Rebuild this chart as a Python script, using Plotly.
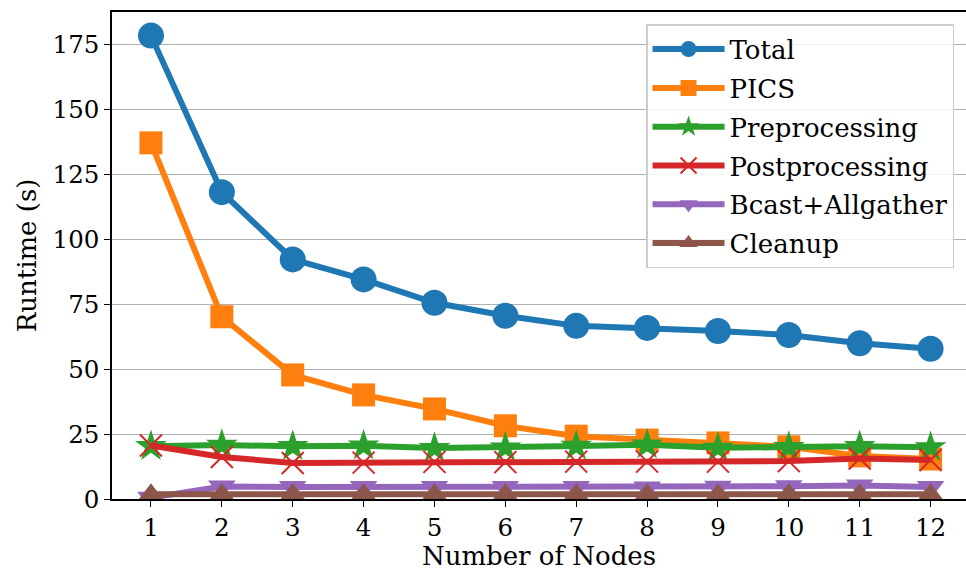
import plotly.graph_objects as go

nodes = [1, 2, 3, 4, 5, 6, 7, 8, 9, 10, 11, 12]
total = [178.5, 118.2, 92.3, 84.6, 75.6, 70.6, 66.7, 65.9, 64.7, 63.2, 60.0, 57.9]
pics = [137.2, 70.2, 47.8, 40.1, 34.7, 28.2, 24.2, 22.7, 21.6, 20.1, 16.6, 15.4]
preprocessing = [20.3, 20.8, 20.3, 20.5, 19.6, 19.8, 20.4, 20.9, 19.7, 20.0, 20.3, 19.9]
postprocessing = [20.6, 16.2, 13.9, 14.0, 14.3, 14.2, 14.4, 14.4, 14.4, 14.6, 15.6, 15.0]
bcast = [0.5, 4.8, 4.6, 4.6, 4.6, 4.6, 4.6, 4.4, 4.7, 4.9, 5.2, 4.6]
cleanup = [1.8, 1.8, 1.8, 1.8, 1.8, 1.8, 1.8, 1.8, 1.8, 1.8, 1.8, 1.8]

series = [
    ("Total", total, "#1f77b4", "circle", 26, None),
    ("PICS", pics, "#ff7f0e", "square", 23, None),
    ("Preprocessing", preprocessing, "#2ca02c", "star", 24, None),
    ("Postprocessing", postprocessing, "#d62728", "x-thin", 22, 2),
    ("Bcast+Allgather", bcast, "#9467bd", "triangle-down", 24, None),
    ("Cleanup", cleanup, "#8c564b", "triangle-up", 22, None),
]

fig = go.Figure()
for i, (name, vals, color, sym, size, lw) in enumerate(series):
    marker = dict(symbol=sym, size=size, color=color)
    if lw:
        marker["line"] = dict(color=color, width=lw)
    else:
        marker["line"] = dict(width=0)
    fig.add_trace(go.Scatter(
        x=nodes, y=vals, name=name, mode="lines+markers",
        line=dict(color=color, width=6), marker=marker,
        legendgroup=f"g{i}",
    ))

font = "DejaVu Serif"
fig.update_layout(
    width=966, height=571,
    margin=dict(l=112, r=0, t=12, b=72),
    paper_bgcolor="white", plot_bgcolor="white",
    font=dict(family=font, size=24.5, color="black"),
    showlegend=True,
    legend=dict(
        x=0.986, y=0.975, xanchor="right", yanchor="top",
        bgcolor="rgba(255,255,255,0.85)", bordercolor="#cccccc", borderwidth=1.5,
        font=dict(family=font, size=26), tracegroupgap=2, itemwidth=72,
    ),
    xaxis=dict(
        range=[0.45, 12.5], tickmode="array", tickvals=nodes,
        ticktext=[str(n) for n in nodes],
        ticks="outside", ticklen=6, tickwidth=1.2, tickcolor="black",
        showline=True, linecolor="black", linewidth=1.5, mirror=True,
        showgrid=False, zeroline=False,
        title=dict(text="Number of Nodes", standoff=5, font=dict(size=26)),
    ),
    yaxis=dict(
        range=[0, 187.6], tickmode="array", tickvals=[0, 25, 50, 75, 100, 125, 150, 175],
        ticks="outside", ticklen=6, tickwidth=1.2, tickcolor="black",
        showline=True, linecolor="black", linewidth=1.5, mirror=False,
        showgrid=True, gridcolor="#b0b0b0", gridwidth=1, zeroline=False,
        title=dict(text="Runtime (s)", standoff=8, font=dict(size=26)),
    ),
)

fig.write_html(
    "out.html",
    config={"displayModeBar": False},
    post_script="document.body.style.margin='0';document.body.style.overflow='hidden';",
)
